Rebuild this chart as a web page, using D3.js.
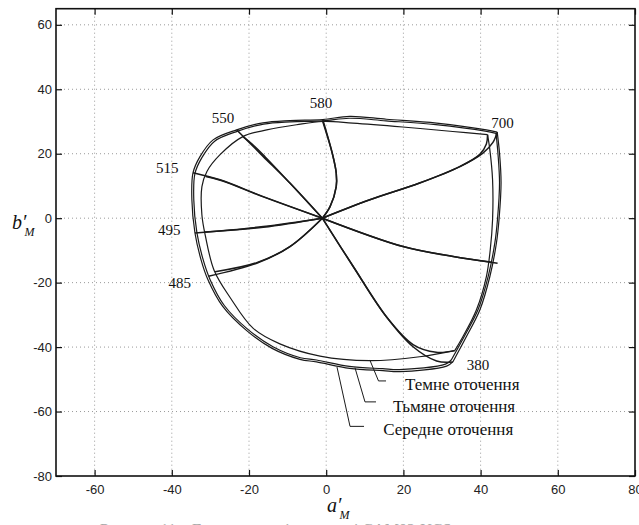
<!DOCTYPE html>
<html>
<head>
<meta charset="utf-8">
<script src="https://cdn.jsdelivr.net/npm/d3@7"></script>
<style>
  body { margin: 0; background: #fff; }
  svg { display: block; }
</style>
</head>
<body>
<div id="chart_id"></div>
<script>
// --- data (a'_M, b'_M) ---

// gamut outlines, split at the 380 corner: right edge 700 -> 380, then the rest 380 -> 700
const avgRight = [[44.3,26.7],[44.9,20.2],[45.3,11.0],[44.8,0.0],[44.1,-7.7],[42.4,-18.1],[39.8,-28.5],[36.3,-36.8],[32.8,-44.6]];
const avgLoop = [[32.8,-44.6],[31.2,-45.9],[19.1,-47.6],[14.7,-47.3],[6.1,-46.6],[-2.5,-44.6],[-6.8,-43.8],[-14.0,-40.4],[-20.6,-34.9],[-26.8,-27.4],[-30.6,-19.2],[-32.4,-13.0],[-34.0,-4.6],[-34.8,5.7],[-34.5,14.1],[-32.7,19.1],[-29.3,24.3],[-23.2,27.4],[-16.4,29.6],[-9.4,30.3],[-0.9,30.6],[6.1,31.6],[15.6,30.7],[28.6,29.5],[41.5,27.4],[44.3,26.7]];

const dimRight = [[44.0,26.3],[44.5,20.0],[44.9,11.0],[44.4,0.0],[43.7,-7.6],[42.0,-17.9],[39.4,-28.2],[35.9,-36.4],[32.4,-44.0]];
const dimLoop = [[32.4,-44.0],[30.9,-45.3],[19.0,-47.0],[14.6,-46.7],[6.0,-46.0],[-2.5,-44.0],[-6.7,-43.3],[-13.8,-39.9],[-20.3,-34.5],[-26.4,-27.1],[-30.1,-19.0],[-31.9,-12.8],[-33.5,-4.5],[-34.3,5.6],[-34.0,13.9],[-32.2,18.8],[-28.9,23.9],[-22.9,27.0],[-16.2,29.2],[-9.3,29.9],[-0.9,30.2],[6.0,31.0],[15.5,30.2],[28.4,29.0],[41.2,27.0],[44.0,26.3]];

const darkRight = [[41.8,25.9],[42.4,21.2],[43.1,11.9],[43.1,-0.5],[42.5,-9.8],[41.5,-18.1],[38.9,-28.5],[35.4,-36.8],[33.3,-41.1]];
const darkLoop = [[33.3,-41.1],[24.2,-43.0],[11.3,-44.2],[-1.6,-42.8],[-12.0,-39.0],[-18.9,-34.2],[-24.9,-24.6],[-29.0,-16.3],[-31.3,-5.5],[-32.2,1.0],[-32.2,9.8],[-30.9,14.5],[-27.5,19.7],[-21.6,25.3],[-15.4,27.4],[-7.7,29.0],[-0.9,30.0],[6.9,29.5],[19.8,28.3],[32.8,26.9],[41.8,25.9]];

// lines from the white point to the spectral colours
const wavelengths = ["380", "485", "495", "515", "550", "580", "700", ""];
const hueAvg = [
  [[-1,0],[7.0,-15.0],[15.6,-30.6],[22.5,-39.9],[28.6,-44.3],[32.8,-44.6]],
  [[-1,0],[-9.4,-8.8],[-18.0,-14.0],[-30.5,-18.0]],
  [[-1,0],[-16.3,-2.6],[-34.0,-4.6]],
  [[-1,0],[-16.3,6.7],[-27.5,11.9],[-34.5,14.1]],
  [[-1,0],[-9.4,10.9],[-16.3,19.1],[-20.6,24.3],[-23.2,27.4]],
  [[-1,0],[1.0,3.6],[2.6,9.8],[2.6,14.0],[1.6,20.0],[-0.9,30.6]],
  [[-1,0],[11.3,5.7],[24.2,10.9],[34.6,16.0],[40.6,20.2],[43.2,23.5],[44.3,26.7]],
  [[-1,0],[19.9,-8.8],[32.9,-11.9],[44.4,-14.0]]
];
const hueDark = [
  [[-1,0],[7.0,-15.0],[15.6,-30.6],[22.5,-39.2],[28.5,-41.6],[33.3,-41.1]],
  [[-1,0],[-9.4,-8.8],[-18.0,-13.8],[-28.8,-16.6]],
  [[-1,0],[-16.3,-2.8],[-31.4,-4.3]],
  [[-1,0],[-16.3,6.6],[-27.0,11.6],[-31.2,12.9]],
  [[-1,0],[-9.4,10.9],[-15.8,19.0],[-19.2,23.0],[-21.6,25.3]],
  [[-1,0],[1.0,3.6],[2.6,9.8],[2.6,14.0],[1.6,20.0],[-0.9,30.0]],
  [[-1,0],[11.3,5.7],[24.2,10.9],[34.6,16.0],[39.8,19.8],[41.5,23.0],[41.8,25.9]],
  [[-1,0],[19.9,-8.8],[32.9,-11.9],[42.6,-13.6]]
];

const xTicks = [-60, -40, -20, 0, 20, 40, 60, 80];
const yTicks = [-80, -60, -40, -20, 0, 20, 40, 60];
const surroundLabels = ["Темне оточення", "Тьмяне оточення", "Середне оточення"];

// --- chart ---
const width = 639, height = 525;
const plotL = 56, plotR = 635, plotT = 8.7, plotB = 476;

const x = d3.scaleLinear().domain([-70, 80]).range([plotL, plotR]);
const y = d3.scaleLinear().domain([-80, 65]).range([plotB, plotT]);

const svg = d3.select("#chart_id").append("svg")
  .attr("width", width)
  .attr("height", height)
  .attr("viewBox", [0, 0, width, height]);

// dotted grid
const grid = svg.append("g")
  .attr("stroke", "#9a9a9a")
  .attr("stroke-width", 1)
  .attr("stroke-dasharray", "1,3");
grid.selectAll(".gx").data(xTicks.filter(d => d < 80)).join("line")
  .attr("x1", d => x(d)).attr("x2", d => x(d))
  .attr("y1", plotT).attr("y2", plotB);
grid.selectAll(".gy").data(yTicks.filter(d => d > -80)).join("line")
  .attr("x1", plotL).attr("x2", plotR)
  .attr("y1", d => y(d)).attr("y2", d => y(d));

// axes, ticks pointing inwards; plain hyphen for negatives like the original
const tickFont = g => g
  .attr("font-family", "'Liberation Sans', Arial, sans-serif")
  .attr("font-size", 13)
  .call(g => g.select(".domain").remove())
  .call(g => g.selectAll("line").attr("stroke", "#111").attr("stroke-width", 1.2))
  .call(g => g.selectAll("text").attr("fill", "#222"));
const plain = d => String(d);

svg.append("g")
  .attr("transform", `translate(0,${plotB})`)
  .call(d3.axisBottom(x).tickValues(xTicks).tickSize(-6).tickPadding(9).tickFormat(plain))
  .call(tickFont);
svg.append("g")
  .attr("transform", `translate(0,${plotT})`)
  .call(d3.axisTop(x).tickValues(xTicks).tickSize(-6).tickFormat(""))
  .call(tickFont);
svg.append("g")
  .attr("transform", `translate(${plotL},0)`)
  .call(d3.axisLeft(y).tickValues(yTicks).tickSize(-6).tickPadding(4).tickFormat(plain))
  .call(tickFont);
svg.append("g")
  .attr("transform", `translate(${plotR},0)`)
  .call(d3.axisRight(y).tickValues(yTicks).tickSize(-6).tickFormat(""))
  .call(tickFont);

// frame
svg.append("rect")
  .attr("x", plotL).attr("y", plotT)
  .attr("width", plotR - plotL).attr("height", plotB - plotT)
  .attr("fill", "none").attr("stroke", "#111").attr("stroke-width", 1.6);

const line = d3.line()
  .x(d => x(d[0]))
  .y(d => y(d[1]))
  .curve(d3.curveCatmullRom.alpha(0.5));

const curves = svg.append("g")
  .attr("fill", "none")
  .attr("stroke", "#1a1a1a")
  .attr("stroke-linejoin", "round");

curves.selectAll(".gamut")
  .data([avgRight, avgLoop, dimRight, dimLoop, darkRight, darkLoop])
  .join("path")
  .attr("stroke-width", 1.2)
  .attr("d", line);

curves.selectAll(".hue")
  .data(hueAvg.concat(hueDark))
  .join("path")
  .attr("stroke-width", 1.5)
  .attr("d", line);

// wavelength labels, placed next to the outer end of each line
const labelOffset = {"380": [14, 8], "485": [-40, 12], "495": [-37, 2], "515": [-37, 0],
                     "550": [-25, -7], "580": [-13, -12], "700": [-6, -4]};
svg.append("g")
  .attr("font-family", "'Liberation Serif', 'Times New Roman', serif")
  .attr("font-size", 15)
  .attr("fill", "#111")
  .selectAll("text")
  .data(wavelengths.map((w, i) => ({w, end: hueAvg[i][hueAvg[i].length - 1]})).filter(d => d.w))
  .join("text")
  .attr("x", d => x(d.end[0]) + labelOffset[d.w][0])
  .attr("y", d => y(d.end[1]) + labelOffset[d.w][1])
  .text(d => d.w);

// surround labels with leader lines
const leaders = [
  [[11.3,-44.0],[13.55,-50.5],[15.5,-50.5]],
  [[7.45,-46.4],[10.05,-57.0],[12.9,-57.0]],
  [[2.8,-46.2],[6.17,-64.6],[9.8,-64.6]]
];
const labelPos = [[20.4,-53.3],[17.3,-60.1],[14.75,-67.2]];

svg.append("g")
  .attr("fill", "none")
  .attr("stroke", "#1a1a1a")
  .attr("stroke-width", 1)
  .selectAll("path")
  .data(leaders)
  .join("path")
  .attr("d", d3.line().x(d => x(d[0])).y(d => y(d[1])));

svg.append("g")
  .attr("font-family", "'Liberation Serif', 'Times New Roman', serif")
  .attr("font-size", 17)
  .attr("fill", "#111")
  .selectAll("text")
  .data(surroundLabels)
  .join("text")
  .attr("x", (d, i) => x(labelPos[i][0]))
  .attr("y", (d, i) => y(labelPos[i][1]))
  .text(d => d);

// axis titles a'_M, b'_M
const axisTitle = (tx, ty, letter) => {
  const t = svg.append("text")
    .attr("x", tx).attr("y", ty)
    .attr("font-family", "'Liberation Serif', 'Times New Roman', serif")
    .attr("font-style", "italic")
    .attr("font-size", 20)
    .attr("fill", "#111");
  t.append("tspan").text(letter + "′");
  t.append("tspan").attr("dx", -2).attr("dy", 7).attr("font-size", 12).text("M");
};
axisTitle(327, 512, "a");
axisTitle(12, 229, "b");

// figure caption, cut off by the bottom edge
svg.append("text")
  .attr("x", 318).attr("y", 535)
  .attr("text-anchor", "middle")
  .attr("font-family", "'Liberation Serif', 'Times New Roman', serif")
  .attr("font-size", 16)
  .attr("fill", "#aaa")
  .text("Рисунок 11 – Гамма кольорів у моделі CAM02-UCS для оточень");
</script>
</body>
</html>
